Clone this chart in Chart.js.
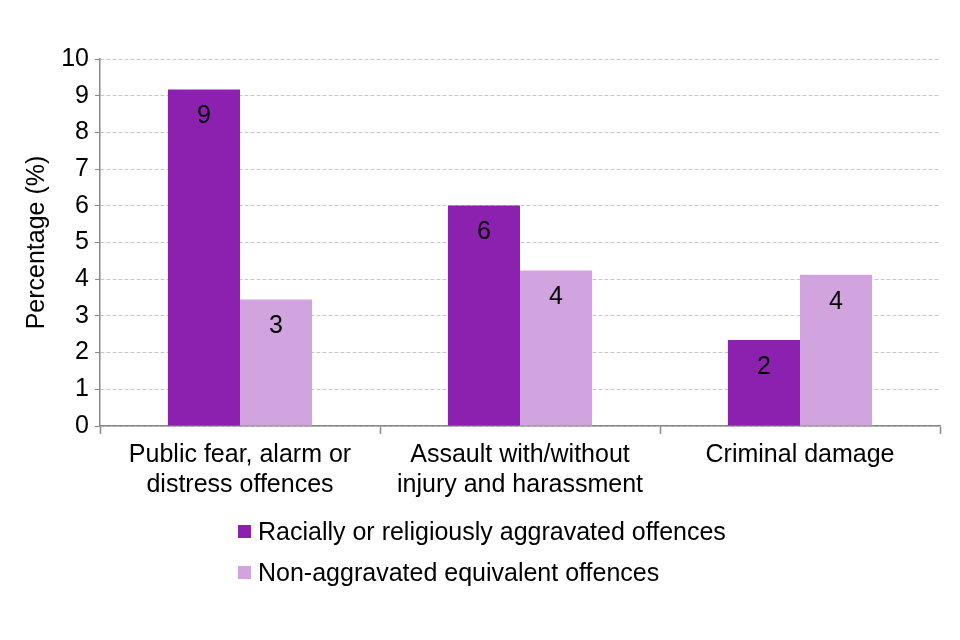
<!DOCTYPE html>
<html>
<head>
<meta charset="utf-8">
<script src="https://cdn.jsdelivr.net/npm/chart.js@4/dist/chart.umd.min.js"></script>
<style>
  body { margin: 0; background: #fff; }
  #wrap { position: relative; width: 960px; height: 640px; }
  #legend { position: absolute; left: 238px; top: 511px; font-family: "Liberation Sans", Arial, sans-serif; font-size: 25px; color: #000; }
  .item { display: flex; align-items: center; height: 41px; }
  .box { width: 13px; height: 13px; margin-right: 7px; }
</style>
</head>
<body>
<div id="wrap">
  <canvas id="chart" width="960" height="640"></canvas>
  <div id="legend"></div>
</div>
<script>
const categories = [
  ['Public fear, alarm or', 'distress offences'],
  ['Assault with/without', 'injury and harassment'],
  'Criminal damage'
];
const seriesNames = ['Racially or religiously aggravated offences', 'Non-aggravated equivalent offences'];
const aggravated = [9.17, 6.01, 2.34];
const nonAggravated = [3.45, 4.24, 4.12];
const colours = ['#8c21b0', '#d1a4e0'];

const font = { family: '"Liberation Sans", Arial, sans-serif', size: 25, lineHeight: 1.2 };

// labels inside the top of each bar, rounded like the original
const barLabels = {
  id: 'barLabels',
  afterDatasetsDraw(chart) {
    const ctx = chart.ctx;
    ctx.save();
    ctx.font = '25px "Liberation Sans", Arial, sans-serif';
    ctx.fillStyle = '#000';
    ctx.textAlign = 'center';
    ctx.textBaseline = 'middle';
    chart.data.datasets.forEach((ds, i) => {
      chart.getDatasetMeta(i).data.forEach((bar, j) => {
        ctx.fillText(Math.round(ds.data[j]), bar.x, bar.y + 27);
      });
    });
    ctx.restore();
  }
};

const chart = new Chart(document.getElementById('chart'), {
  type: 'bar',
  data: {
    labels: categories,
    datasets: [
      { label: seriesNames[0], data: aggravated, backgroundColor: colours[0] },
      { label: seriesNames[1], data: nonAggravated, backgroundColor: colours[1] }
    ]
  },
  options: {
    responsive: false,
    animation: false,
    layout: { padding: { top: 59, right: 20, left: 22, bottom: 0 } },
    plugins: { legend: { display: false }, tooltip: { enabled: false } },
    datasets: { bar: { categoryPercentage: 0.515, barPercentage: 1 } },
    scales: {
      x: {
        grid: { offset: true, drawOnChartArea: false, drawTicks: true, tickLength: 8, color: '#888', tickWidth: 1.5 },
        border: { color: '#888', width: 1.5 },
        ticks: { color: '#000', font: font, padding: 6 },
        afterFit(scale) { scale.height = 640 - 426; }
      },
      y: {
        min: 0,
        max: 10,
        ticks: { stepSize: 1, color: '#000', font: font, padding: 6 },
        grid: { color: '#c8c8c8', tickColor: '#888', tickLength: 5, tickBorderDash: [] },
        border: { color: '#888', width: 1.5, dash: [4, 2] },
        title: { display: true, text: 'Percentage (%)', color: '#000', font: font, padding: 0 },
        afterFit(scale) { scale.width = 78; }
      }
    }
  },
  plugins: [barLabels]
});

// legend in a column under the chart
const legend = document.getElementById('legend');
chart.data.datasets.forEach(ds => {
  const row = document.createElement('div');
  row.className = 'item';
  const box = document.createElement('span');
  box.className = 'box';
  box.style.background = ds.backgroundColor;
  const txt = document.createElement('span');
  txt.textContent = ds.label;
  row.appendChild(box);
  row.appendChild(txt);
  legend.appendChild(row);
});
</script>
</body>
</html>
